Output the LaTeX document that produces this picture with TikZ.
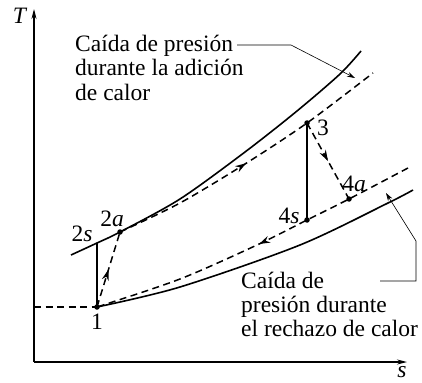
\documentclass[tikz,border=0pt]{standalone}
\usepackage{fontspec}
\setmainfont{Liberation Serif}
\usetikzlibrary{arrows.meta,decorations.markings}
\begin{document}
\begin{tikzpicture}[x=1pt,y=-1pt,
  lbl/.style={inner sep=0pt,font=\fontsize{23.5}{24.5}\selectfont},
  curve/.style={line width=1.6pt},
  dsh/.style={line width=1.5pt,dash pattern=on 7pt off 4.5pt},
  heavy/.style={line width=2.6pt},
  leader/.style={line width=0.6pt},
  axis/.style={line width=1.2pt,-{Stealth[length=10pt,width=5pt]}},
  dot/.style={circle,fill,inner sep=0pt,minimum size=5.5pt},
  midarrow/.style={postaction={decorate},decoration={markings,mark=at position #1 with {\arrow{Stealth[length=11pt,width=7pt]}}}}
]
\useasboundingbox (0,0) rectangle (422,382);

% state points
\coordinate (c1) at (97,307);
\coordinate (c2s) at (97,243);
\coordinate (c2a) at (120,232);
\coordinate (c3) at (307,123);
\coordinate (c4s) at (307,220);
\coordinate (c4a) at (349,199);

% axes
\coordinate (o) at (34,362);
\coordinate (ty) at (34,9);
\coordinate (sx) at (407,362);
\draw[axis] (o) -- (ty);
\draw[axis] (o) -- (sx);
\node[lbl] (T) at (20,16) {\textit{T}};
\node[lbl,anchor=base] (S) at (402,377) {\textit{s}};

% horizontal dashed at T1
\coordinate (h0) at (34,307);
\draw[dsh] (h0) -- (c1);

% upper solid isobar
\draw[curve] plot[smooth] coordinates {(71,255) (c2s) (c2a) (180,199) (245,152) (297,111) (340,74) (361,51)};
% upper dashed (actual heat addition)
\draw[dsh,midarrow=0.48] plot[smooth] coordinates {(c2a) (180,203) (245,164) (c3) (373,73)};

% lower solid isobar
\draw[curve] plot[smooth] coordinates {(c1) (180,287) (300,245) (388,203) (413,190)};
% lower dashed (actual heat rejection)
\draw[dsh,midarrow=0.49] plot[smooth] coordinates {(408,168) (c4a) (c4s) (257,245) (180,279) (c1)};

% compression and expansion
\draw[heavy] (c1) -- (c2s);
\draw[heavy] (c3) -- (c4s);
\draw[dsh,midarrow=0.5] (c1) -- (c2a);
\draw[dsh,midarrow=0.5] (c3) -- (c4a);

% dots
\node[dot] (d1) at (c1) {};
\node[dot] (d2a) at (c2a) {};
\node[dot] (d3) at (c3) {};
\node[dot] (d4s) at (c4s) {};
\node[dot] (d4a) at (c4a) {};

% point labels
\node[lbl] (l1) at (97,322) {1};
\node[lbl] (l2s) at (82,234) {2\textit{s}};
\node[lbl] (l2a) at (112,218.5) {2\textit{a}};
\node[lbl] (l3) at (323,127.5) {3};
\node[lbl] (l4s) at (289,215.5) {4\textit{s}};
\node[lbl] (l4a) at (354,184) {4\textit{a}};

% upper annotation
\node[lbl,anchor=base west] (a1) at (75,51.5) {Caída de presión};
\node[lbl,anchor=base west] (a2) at (75,76) {durante la adición};
\node[lbl,anchor=base west] (a3) at (75,100.5) {de calor};
\coordinate (ua) at (237,45);
\coordinate (ub) at (291,45);
\coordinate (uc) at (355,78);
\draw[leader,-{Stealth[length=8pt,width=5pt]}] (ua) -- (ub) -- (uc);

% lower annotation
\node[lbl,anchor=base west] (b1) at (241,288) {Caída de};
\node[lbl,anchor=base west] (b2) at (241,312) {presión durante};
\node[lbl,anchor=base west] (b3) at (241,336) {el rechazo de calor};
\coordinate (la) at (380,281);
\coordinate (lb) at (416,281);
\coordinate (lc) at (416,241);
\coordinate (ld) at (386,193);
\draw[leader,-{Stealth[length=8pt,width=5pt]}] (la) -- (lb) -- (lc) -- (ld);
\end{tikzpicture}
\end{document}
